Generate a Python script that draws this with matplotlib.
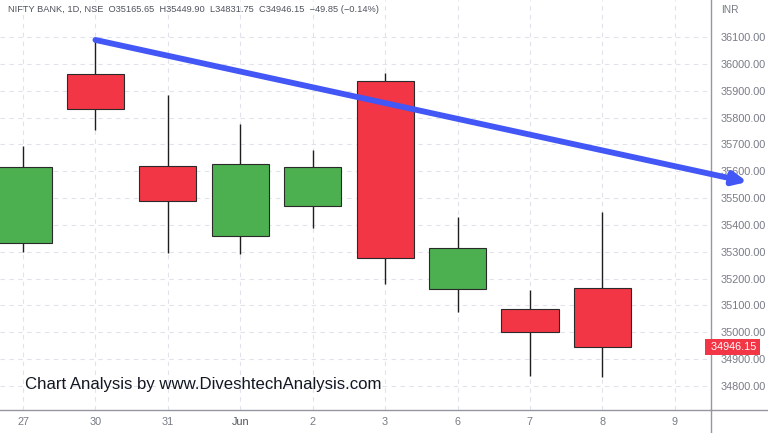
import matplotlib.pyplot as plt
from matplotlib.lines import Line2D
import matplotlib.transforms as mtransforms

# Daily candles, NIFTY BANK (last visible one is still open: 9 Jun has no candle)
day_labels = ["27", "30", "31", "Jun", "2", "3", "6", "7", "8", "9"]
opens = [35333, 35962, 35619, 35359, 35470, 35936, 35161, 35087, 35165.65]
highs = [35694, 36089, 35884, 35776, 35679, 35966, 35430, 35158, 35449.90]
lows = [35299, 35754, 35295, 35292, 35389, 35180, 35076, 34837, 34831.75]
closes = [35616, 35832, 35489, 35627, 35616, 35277, 35314, 35001, 34946.15]

# hand drawn trend line (day index, price)
trend_x = [1, 10]
trend_y = [36089, 35560]

price_ticks = list(range(34800, 36101, 100))
last_close = closes[-1]

UP = "#4caf50"
DOWN = "#f23645"
TXT = "#787b86"
LINE = "#9598a1"

plt.rcParams["font.family"] = ["Liberation Sans", "DejaVu Sans"]

fig = plt.figure(figsize=(7.68, 4.33), dpi=100)
ax = fig.add_axes([0, 23 / 433, 711 / 768, 410 / 433])

# candles
for i, (o, h, l, c) in enumerate(zip(opens, highs, lows, closes)):
    col = UP if c >= o else DOWN
    ax.vlines(i, l, h, color="#1e1e1e", linewidth=1.0, zorder=2)
    ax.bar(i, abs(c - o), bottom=min(o, c), width=0.79, color=col,
           edgecolor="#2a2a2a", linewidth=0.8, zorder=3)

# trend arrow
ax.annotate("", xy=(trend_x[1], trend_y[1]), xytext=(trend_x[0], trend_y[0]),
            arrowprops=dict(arrowstyle="-|>,head_length=0.8,head_width=0.38",
                            color="#4257f5", lw=4.2, shrinkA=0, shrinkB=0),
            annotation_clip=False, zorder=5)

ax.set_xlim(-0.318, 9.50)
ax.set_ylim(34710.6, 36237.8)

ax.set_xticks(range(len(day_labels)))
ax.set_xticklabels(day_labels, fontsize=7.8, color=TXT)
ax.get_xticklabels()[3].set_color("#50535e")
ax.yaxis.tick_right()
ax.set_yticks(price_ticks)
ax.set_yticklabels([f"{p:.2f}" for p in price_ticks], fontsize=7.8, color=TXT)
ax.tick_params(axis="both", length=0)
ax.tick_params(axis="y", pad=7)
ax.tick_params(axis="x", pad=5)

ax.grid(True, color="#e0e3eb", linestyle=(0, (4, 4)), linewidth=0.8, zorder=0)
ax.set_axisbelow(True)
for s in ["top", "left"]:
    ax.spines[s].set_visible(False)
for s in ["right", "bottom"]:
    ax.spines[s].set_color(LINE)
    ax.spines[s].set_linewidth(1.0)

# axis lines extended into the corner
fig.add_artist(Line2D([711 / 768, 1], [23 / 433, 23 / 433], color=LINE, lw=1.0))
fig.add_artist(Line2D([711 / 768, 711 / 768], [0, 23 / 433], color=LINE, lw=1.0))

# last price tag on the price scale
trans = mtransforms.blended_transform_factory(ax.transAxes, ax.transData)
ax.text(0.996, last_close, f" {last_close:.2f}", transform=trans, ha="left", va="center",
        fontsize=7.8, color="white", zorder=6, clip_on=False,
        bbox=dict(boxstyle="square,pad=0.3", fc=DOWN, ec="none"))

# header and watermark
fig.text(8 / 768, 1 - 10 / 433,
         "NIFTY BANK, 1D, NSE  O35165.65  H35449.90  L34831.75  C34946.15  \u221249.85 (\u22120.14%)",
         fontsize=6.7, color="#50535e", va="center", ha="left")
fig.text(721 / 768, 1 - 10 / 433, "INR", fontsize=7.3, color=TXT, va="center", ha="left")
fig.text(25 / 768, 1 - 384 / 433, "Chart Analysis by www.DiveshtechAnalysis.com",
         fontsize=12.1, color="#131722", va="center", ha="left")

plt.savefig("out.png", dpi=100)
